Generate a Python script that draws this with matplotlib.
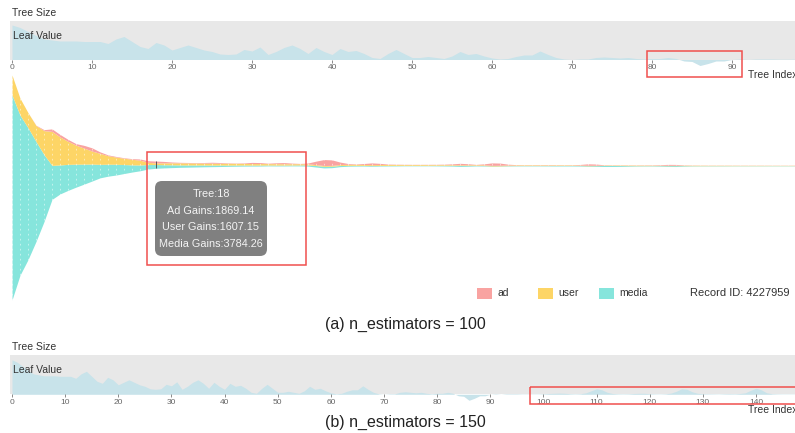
import numpy as np
import matplotlib
matplotlib.use("Agg")
import matplotlib.pyplot as plt
from matplotlib.patches import Rectangle, FancyBboxPatch
from matplotlib.transforms import Affine2D

plt.rcParams['font.family'] = ['Liberation Sans', 'DejaVu Sans']

# leaf value per tree (first 100 trees, shared by both models)
leaf_a = [0.345, 0.32, 0.28, 0.24, 0.205, 0.195, 0.185, 0.185, 0.185, 0.18,
          0.18, 0.18, 0.16, 0.205, 0.23, 0.18, 0.13, 0.11, 0.17, 0.145,
          0.095, 0.12, 0.145, 0.12, 0.095, 0.08, 0.055, 0.05, 0.055, 0.10,
          0.085, 0.125, 0.05, 0.08, 0.12, 0.145, 0.11, 0.06, 0.12, 0.08,
          0.05, 0.11, 0.08, 0.09, 0.06, 0.02, 0.01, 0.06, 0.10, 0.06,
          0.02, 0.02, 0.03, 0.02, 0.01, 0.035, 0.08, 0.05, 0.06, 0.035,
          0.015, 0.005, 0.01, 0.03, 0.045, 0.045, 0.085, 0.05, 0.02, 0.005,
          0.0, 0.005, 0.005, 0.02, 0.025, 0.02, 0.015, 0.02, 0.01, 0.005,
          0.01, 0.01, 0.02, 0.01, -0.015, -0.02, -0.06, -0.04, -0.015, -0.015,
          0.0, 0.005, 0.0, 0.005, 0.005, 0.005, 0.003, 0.003, 0.003, 0.003]
# extra trees 100..149 of the 150-tree model
leaf_b_more = [0.005, 0.008, 0.01, 0.012, 0.01, 0.006, 0.004, 0.006, 0.015, 0.035,
               0.055, 0.045, 0.02, 0.008, 0.005, 0.004, 0.005, 0.008, 0.01, 0.01,
               0.006, 0.004, 0.003, 0.005, 0.012, 0.03, 0.055, 0.05, 0.025, 0.01,
               0.006, 0.005, 0.004, 0.003, 0.005, 0.006, 0.005, 0.008, 0.015, 0.04,
               0.06, 0.045, 0.015, 0.006, 0.004, 0.003, 0.003, 0.003, 0.003, 0.003]

# gains per tree for record 4227959
media = [205000, 160000, 132000, 100000, 67000, 34000, 29000, 26000, 23000, 20000,
         17000, 13500, 12000, 10800, 9000, 7200, 5800, 4500, 3784.26, 3200,
         2800, 2400, 2200, 2000, 1800, 1600, 1500, 1300, 1200, 1100,
         1000, 1000, 900, 900, 900, 900, 1000, 1200, 1500, 1600,
         1500, 1200, 900, 800, 700, 700, 600, 600, 600, 500,
         500, 500, 500, 600, 700, 800, 1000, 900, 600, 500,
         500, 450, 450, 400, 400, 400, 400, 450, 500, 500,
         500, 550, 650, 800, 1000, 1000, 900, 700, 500, 450,
         450, 600, 800, 900, 600, 400, 350, 350, 350, 350,
         300, 300, 300, 300, 300, 300, 300, 300, 300, 300]
user = [20000, 17000, 15000, 16000, 24000, 34000, 28000, 23000, 19000, 16000,
        13000, 11000, 8500, 7200, 6300, 5600, 4800, 2200, 1607.15, 1900,
        2000, 2100, 2100, 2000, 1900, 1900, 1800, 1800, 1700, 1600,
        1500, 1500, 1400, 1400, 1300, 1300, 1200, 1100, 900, 800,
        800, 900, 1000, 1000, 900, 900, 900, 900, 850, 800,
        800, 800, 750, 700, 700, 650, 600, 600, 650, 700,
        600, 600, 650, 650, 600, 600, 600, 550, 550, 500,
        500, 500, 450, 400, 400, 400, 450, 500, 500, 500,
        450, 400, 400, 400, 450, 450, 450, 400, 400, 400,
        400, 350, 350, 350, 350, 300, 300, 300, 300, 300]
ad = [0, 0, 0, 300, 1000, 2500, 2500, 2000, 1500, 2800,
      3200, 1500, 800, 600, 500, 600, 1200, 1600, 1869.14, 1400,
      800, 500, 400, 400, 600, 900, 700, 400, 300, 500,
      1200, 1000, 400, 900, 1200, 600, 300, 800, 3500, 6000,
      5500, 2500, 800, 400, 1000, 1800, 1200, 400, 300, 250,
      200, 200, 250, 300, 400, 800, 1500, 1000, 300, 1000,
      2500, 2200, 800, 300, 200, 200, 250, 300, 250, 200,
      250, 600, 1500, 1200, 300, 200, 200, 200, 200, 250,
      300, 500, 900, 800, 300, 200, 150, 150, 150, 150,
      150, 150, 150, 150, 150, 150, 150, 150, 150, 150]

record_id = 4227959
hover_tree = 18
layer_names = ['media', 'user', 'ad']
layer_colors = {'ad': '#f9a3a1', 'user': '#fdd566', 'media': '#86e5dc'}

W, H = 795, 433
fig = plt.figure(figsize=(W / 100, H / 100), dpi=100)
pix = Affine2D().scale(1, -1).translate(0, H)  # pixel coords, y downwards


def add_ax(x0, y0, x1, y1):
    return fig.add_axes([x0 / W, 1 - y1 / H, (x1 - x0) / W, (y1 - y0) / H])


def ptext(x, y, s, **kw):
    kw.setdefault('va', 'center')
    kw.setdefault('color', '#333333')
    fig.text(x, y, s, transform=pix, **kw)


def red_box(x0, y0, x1, y1):
    fig.add_artist(Rectangle((x0, y0), x1 - x0, y1 - y0, transform=pix, fill=False,
                             edgecolor='#f0504e', lw=1.1, zorder=10))


def wiggle(layers):
    # streamgraph baseline (Byron & Wattenberg, as d3.stackOffsetWiggle)
    f = np.asarray(layers, float)
    base = np.zeros(f.shape[1])
    y = 0.0
    for j in range(1, f.shape[1]):
        d = f[:, j] - f[:, j - 1]
        s3 = d / 2 + np.concatenate([[0], np.cumsum(d)[:-1]])
        s1 = f[:, j].sum()
        if s1:
            y -= (s3 * f[:, j]).sum() / s1
        base[j] = y
    return base


def leaf_panel(band_top, band_bot, leaf, px_per_tree):
    ax = add_ax(10, band_top, 795, band_bot)
    trees = np.arange(len(leaf))
    ax.set_xlim(-2 / px_per_tree, 783 / px_per_tree)
    ax.set_ylim(0, (band_bot - band_top) / 100)
    ax.set_facecolor('#e8e8e8')
    ax.fill_between(trees, 0, leaf, color='#c8e3ea', lw=0, clip_on=False)
    for s in ax.spines.values():
        s.set_visible(False)
    ax.set_yticks([])
    ax.set_xticks(range(0, len(leaf), 10))
    ax.tick_params(axis='x', length=2, width=0.6, color='#777777', labelsize=6,
                   labelcolor='#666666', pad=1.5)
    ptext(12, band_top - 8, 'Tree Size', fontsize=7.5)
    ptext(13, band_top + 15, 'Leaf Value', fontsize=7.5)
    ptext(748, band_bot + 15.5, 'Tree Index', fontsize=7.5)
    return ax


# (a) top leaf panel
leaf_panel(21, 59.5, leaf_a, 8.0)
red_box(647, 51, 742, 77)

# (a) stream graph
ax = add_ax(10, 75, 795, 300)
ax.set_facecolor('none')
ax.axis('off')
trees = np.arange(len(media))
series = {'media': media, 'user': user, 'ad': ad}
layers = [series[n] for n in layer_names]
lo = wiggle(layers)
base = lo.copy()
for name in layer_names:
    hi = lo + np.asarray(series[name], float)
    ax.fill_between(trees, lo, hi, color=layer_colors[name], lw=0)
    lo = hi
ax.set_xlim(-2 / 8.0, 783 / 8.0)
ax.set_ylim(base.min(), lo.max())
for t in trees:
    ax.axvline(t, color='white', lw=0.6, ls=(0, (2, 4)), alpha=0.6, zorder=3)
ax.vlines(hover_tree, base[hover_tree], lo[hover_tree], color='#555555', lw=0.7, zorder=4)

# tooltip
fig.add_artist(FancyBboxPatch((155, 181), 112, 75, transform=pix,
                              boxstyle='round,pad=0,rounding_size=7',
                              facecolor='#808080', edgecolor='none', zorder=9))
tip = ['Tree:%d' % hover_tree,
       'Ad Gains:%.2f' % ad[hover_tree],
       'User Gains:%.2f' % user[hover_tree],
       'Media Gains:%.2f' % media[hover_tree]]
for i, line in enumerate(tip):
    ptext(211, 194 + i * 16.7, line, ha='center', fontsize=7.8, color='#f4f4f4', zorder=11)
red_box(147, 152, 306, 265)

# legend
for x, name in zip([477, 538, 599], ['ad', 'user', 'media']):
    fig.add_artist(Rectangle((x, 288), 15, 11, transform=pix,
                             facecolor=layer_colors[name], edgecolor='none'))
    ptext(x + 20, 293.5, name, fontsize=7.5)
ptext(690, 293.5, 'Record ID: %d' % record_id, fontsize=8)

ptext(405, 324, '(a) n_estimators = %d' % len(media), ha='center', fontsize=11.5, color='#222222')

# (b) leaf panel for 150 trees
leaf_b = leaf_a + leaf_b_more
leaf_panel(355, 394.3, leaf_b, 744 / 140)
red_box(530, 387, 800, 404)
ptext(405, 422, '(b) n_estimators = %d' % len(leaf_b), ha='center', fontsize=11.5, color='#222222')

fig.savefig('out.png', dpi=100)
